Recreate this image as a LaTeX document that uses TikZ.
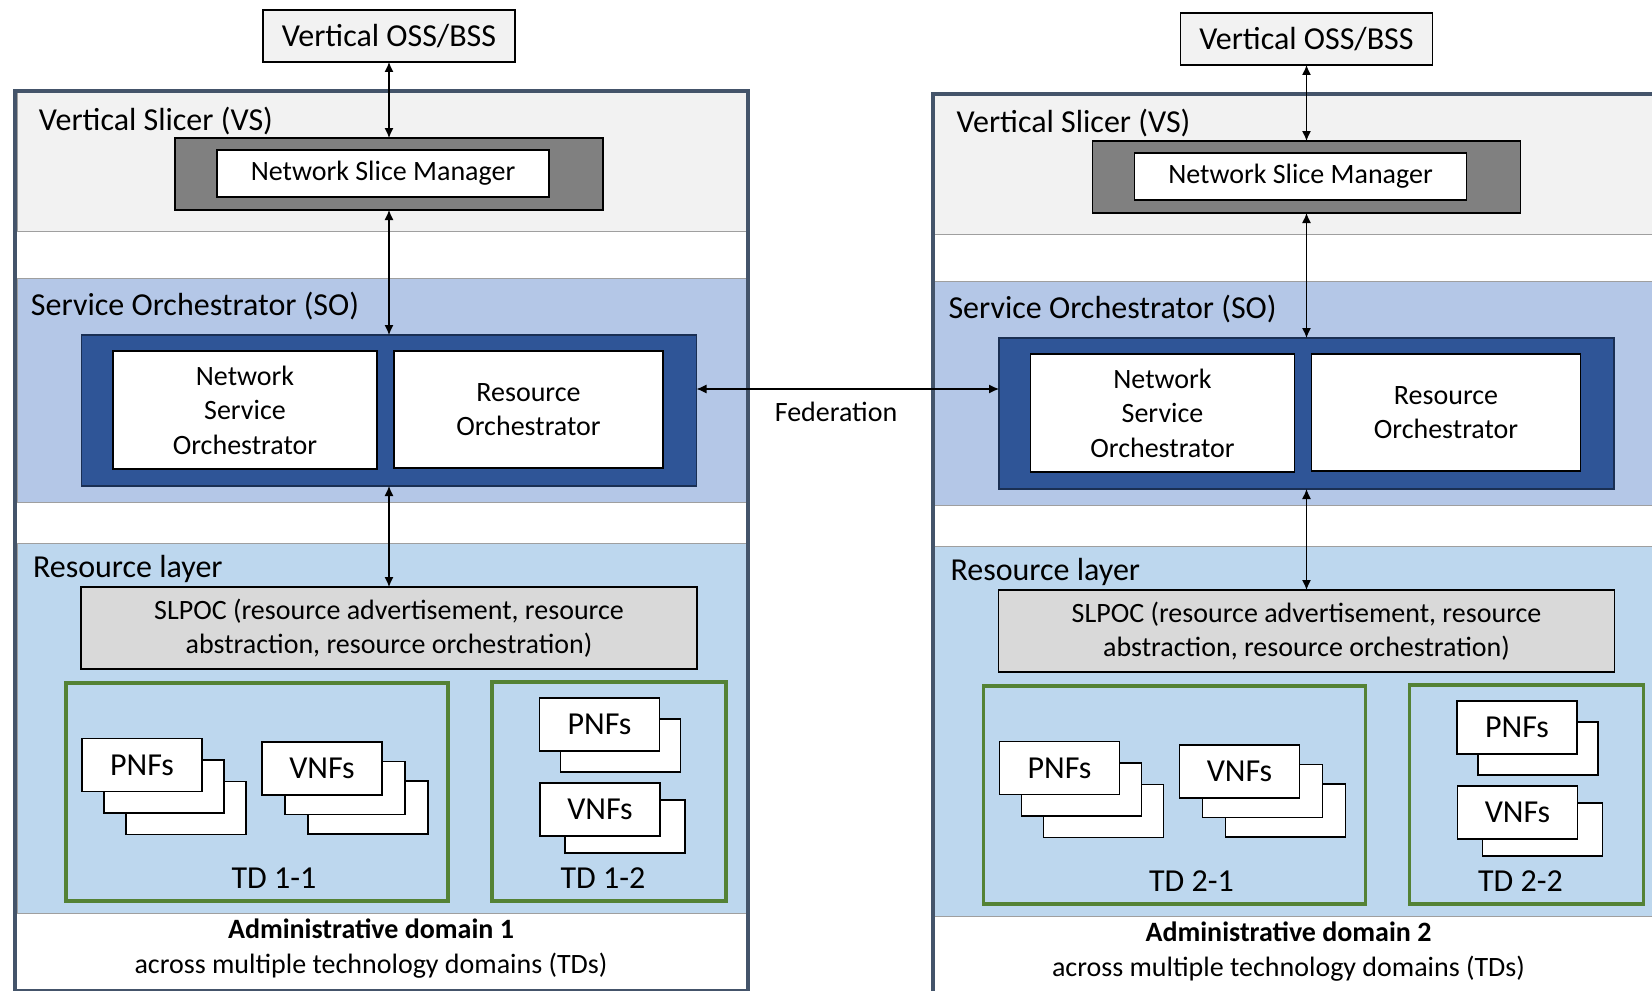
\documentclass[tikz,border=0pt]{standalone}
\usepackage{fontspec}
\setmainfont{Carlito}
\usetikzlibrary{arrows.meta}
\definecolor{framecol}{HTML}{44546A}
\definecolor{vsfill}{HTML}{F2F2F2}
\definecolor{sofill}{HTML}{B4C7E7}
\definecolor{rlfill}{HTML}{BDD7EE}
\definecolor{nsmfill}{HTML}{808080}
\definecolor{sodark}{HTML}{2F5597}
\definecolor{slpocfill}{HTML}{D9D9D9}
\definecolor{tdgreen}{HTML}{548235}
\newcommand{\bigtxt}{\fontsize{16}{19}\selectfont}
\newcommand{\smalltxt}{\fontsize{14}{17.2}\selectfont}

\begin{document}
\begin{tikzpicture}[x=0.5pt, y=-0.5pt,
    every node/.style={inner sep=0pt, outer sep=0pt, font=\smalltxt, align=center},
    boxsize/.style 2 args={minimum width=#1*0.5pt, minimum height=#2*0.5pt},
    band/.style={draw=gray!75, line width=0.5pt},
    box/.style={draw=black, line width=0.6pt, fill=white},
    nf/.style={box, boxsize={120}{53}, font=\bigtxt},
    td/.style={draw=tdgreen, line width=1.8pt},
    link/.style={line width=0.6pt, {Latex[length=5pt,width=4.5pt]}-{Latex[length=5pt,width=4.5pt]}},
    layer/.style={anchor=base west, font=\bigtxt}]
    \clip (0,0) rectangle (1652,990);
    % two administrative domains, the second one shifted right
    \foreach \d/\dx/\dy in {1/0/0, 2/917.5/3}{
    \begin{scope}[shift={(\dx,\dy)}]
        % VS, SO and resource layers
        \node[band, fill=vsfill, boxsize={729}{138}] (vsband\d) at (381.5,162) {};
        \node[band, fill=sofill, boxsize={729}{224}] (soband\d) at (381.5,390) {};
        \node[band, fill=rlfill, boxsize={729}{370}] (rlband\d) at (381.5,728) {};
        \draw[framecol, line width=2pt] (15,90.7) rectangle (748,990.5);
        \node[layer] (vslabel\d) at (39,130) {Vertical Slicer (VS)};
        \node[layer] (solabel\d) at (31,315) {Service Orchestrator (SO)};
        \node[layer] (rllabel\d) at (33,577) {Resource layer};
        % vertical OSS/BSS and slice manager
        \node[box, fill=vsfill, boxsize={252}{52}, font=\bigtxt] (oss\d) at (389,36) {Vertical OSS/BSS};
        \node[box, fill=nsmfill, boxsize={428}{72}] (nsm\d) at (389,174) {};
        \node[box, boxsize={332}{47}] (nsmin\d) at (383,173.5) {Network Slice Manager};
        % orchestrators
        \node[box, fill=sodark, draw=sodark!55!black, boxsize={615}{151}] (sobox\d) at (389,410.5) {};
        \node[box, boxsize={264}{118}] (nso\d) at (245,410) {Network\\Service\\Orchestrator};
        \node[box, boxsize={269}{117}] (ro\d) at (528.5,409.5) {Resource\\Orchestrator};
        \node[box, fill=slpocfill, boxsize={616}{82}] (slpoc\d) at (389,628)
            {SLPOC (resource advertisement, resource\\abstraction, resource orchestration)};
        % technology domains
        \node[td, boxsize={382}{218}] (tda\d) at (257,792) {};
        \node[td, boxsize={234}{219}] (tdb\d) at (609,791.5) {};
        \foreach \k in {2,1}{
            \node[nf] (pnfa\d-\k) at (142+22*\k,765+21.5*\k) {};
            \node[nf] (vnfa\d-\k) at (322+23*\k,768.5+19.5*\k) {};
        }
        \node[nf] (pnfa\d) at (142,765) {PNFs};
        \node[nf] (vnfa\d) at (322,768.5) {VNFs};
        \node[nf] (pnfb\d-1) at (620.5,745.5) {};
        \node[nf] (pnfb\d) at (599.5,724.5) {PNFs};
        \node[nf] (vnfb\d-1) at (625,826.5) {};
        \node[nf] (vnfb\d) at (600,809.5) {VNFs};
        \node[anchor=base, font=\bigtxt] (tdalabel\d) at (274,888) {TD \d-1};
        \node[anchor=base, font=\bigtxt] (tdblabel\d) at (603,888) {TD \d-2};
        \node[anchor=base, font=\smalltxt\bfseries] (adm\d) at (371,938) {Administrative domain \d};
        \node[anchor=base] (admsub\d) at (371,973) {across multiple technology domains (TDs)};
        % interfaces
        \draw[link] (oss\d.south) -- (nsm\d.north);
        \draw[link] (nsm\d.south) -- (sobox\d.north);
        \draw[link] (sobox\d.south) -- (slpoc\d.north);
    \end{scope}
    }
    % federation between the two service orchestrators
    \coordinate (fed) at ([yshift=10.75pt]sobox1.east);
    \draw[link] (fed) -- (fed -| sobox2.west);
    \node[anchor=base] (fedlabel) at (836,421.5) {Federation};
\end{tikzpicture}
\end{document}
